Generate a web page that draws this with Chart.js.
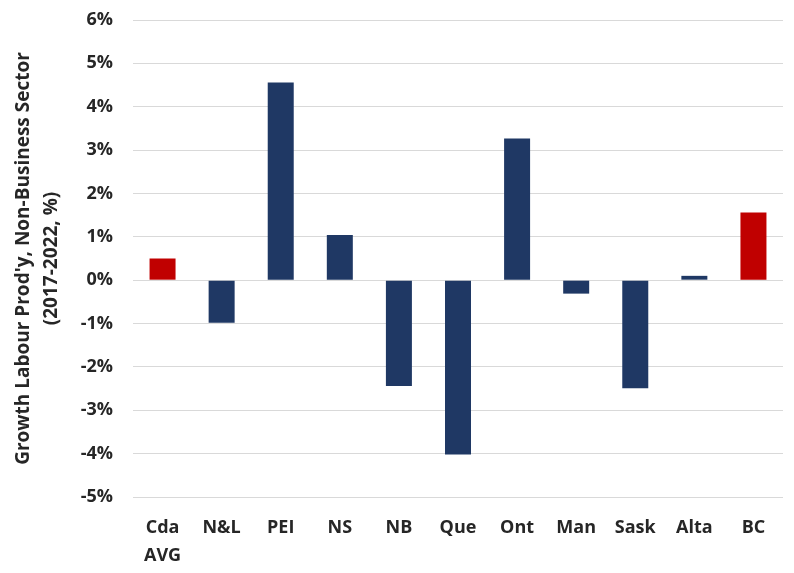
<!DOCTYPE html>
<html>
<head>
<meta charset="utf-8">
<script src="https://cdn.jsdelivr.net/npm/chart.js@4.4.1/dist/chart.umd.min.js"></script>
<style>
  html, body { margin: 0; padding: 0; background: #ffffff; }
  #wrap { width: 794px; height: 573px; }
</style>
</head>
<body>
<div id="wrap"><canvas id="chart" width="794" height="573"></canvas></div>
<script>
// Growth in labour productivity, non-business sector, 2017-2022 (%)
const categories = [['Cda', 'AVG'], 'N&L', 'PEI', 'NS', 'NB', 'Que', 'Ont', 'Man', 'Sask', 'Alta', 'BC'];
const growthPct = [0.50, -0.98, 4.56, 1.04, -2.44, -4.02, 3.27, -0.31, -2.49, 0.10, 1.56];
const highlighted = [true, false, false, false, false, false, false, false, false, false, true];
const yTicks = [-5, -4, -3, -2, -1, 0, 1, 2, 3, 4, 5, 6];
const yTitle = ["Growth Labour Prod'y, Non-Business Sector", '(2017-2022, %)'];

const NAVY = '#1f3864';
const RED = '#c00000';
const TEXT = '#262626';
const FAMILY = '"Open Sans", "Liberation Sans", sans-serif';
const TICK_FONT = { family: FAMILY, size: 18, weight: 'bold' };

const PAD_LEFT = 4;
const PLOT_LEFT = 133;
const PLOT_BOTTOM = 497;

new Chart(document.getElementById('chart'), {
  type: 'bar',
  data: {
    labels: categories,
    datasets: [{
      data: growthPct,
      backgroundColor: highlighted.map(h => h ? RED : NAVY),
      borderWidth: 0,
      barPercentage: 0.44,
      categoryPercentage: 1.0
    }]
  },
  options: {
    responsive: false,
    animation: false,
    devicePixelRatio: 1,
    layout: { padding: { left: PAD_LEFT, right: 11, top: 20, bottom: 0 } },
    plugins: {
      legend: { display: false },
      tooltip: { enabled: false }
    },
    scales: {
      x: {
        grid: { display: false, drawTicks: false },
        border: { display: false },
        ticks: {
          color: TEXT,
          font: { ...TICK_FONT, lineHeight: 1.55 },
          padding: 17,
          maxRotation: 0,
          autoSkip: false
        },
        afterFit: (scale) => { scale.height = 573 - PLOT_BOTTOM; }
      },
      y: {
        min: yTicks[0],
        max: yTicks[yTicks.length - 1],
        afterBuildTicks: (scale) => { scale.ticks = yTicks.map(v => ({ value: v })); },
        // invisible tick marks keep the labels clear of the plot edge
        grid: { color: '#d9d9d9', lineWidth: 1, drawTicks: true, tickLength: 18, tickColor: 'rgba(0,0,0,0)' },
        border: { display: false },
        ticks: {
          color: TEXT,
          font: TICK_FONT,
          padding: 2,
          callback: (v) => v + '%'
        },
        title: {
          display: true,
          text: yTitle,
          color: TEXT,
          font: { family: FAMILY, size: 19, weight: 'bold', lineHeight: 1.45 },
          padding: { top: 6, bottom: 0 }
        },
        afterFit: (scale) => { scale.width = PLOT_LEFT - PAD_LEFT; }
      }
    }
  }
});
</script>
</body>
</html>
